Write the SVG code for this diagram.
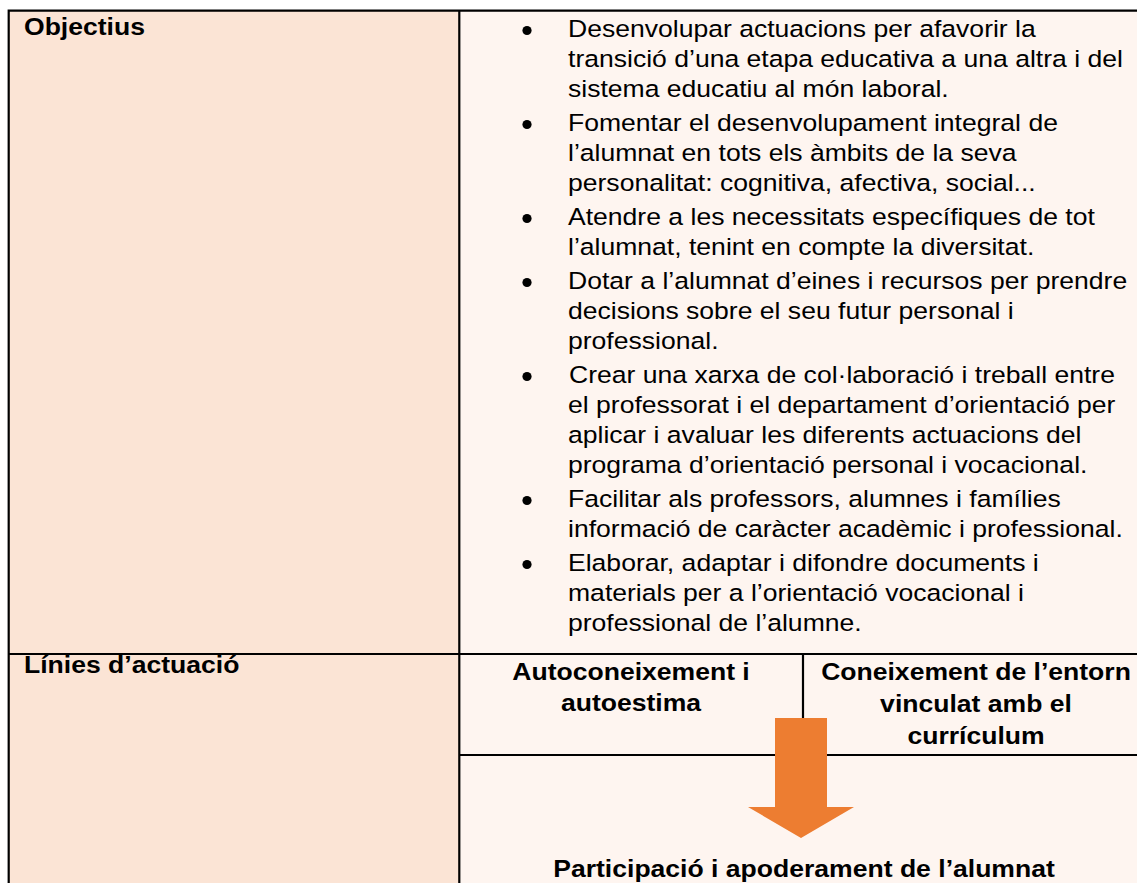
<svg xmlns="http://www.w3.org/2000/svg" width="1137" height="883" viewBox="0 0 1137 883">
<style>
.t{font-family:"Liberation Sans",Arial,sans-serif;font-size:23.3px;fill:#000}
.bd{font-weight:bold}
.c{text-anchor:middle}
.ln{stroke:#000;stroke-width:2.2;fill:none}
.dot{fill:#000}
</style>
<rect width="1137" height="883" fill="#fff"/>
<g id="cells">
<rect x="9" y="11" width="450" height="872" fill="#FBE4D5"/>
<rect x="459" y="11" width="690" height="872" fill="#FEF5F0"/>
</g>
<g id="grid">
<path class="ln" d="M7.6 10.7H1150M8.7 10V883M459.3 10V883M8.7 654H1150M803 654V755M459.3 755H1150"/>
</g>
<g id="objectius-label">
<text class="t bd" transform="translate(24 35) scale(1.14 1)">Objectius</text>
</g>
<g id="objectius-list">
<circle class="dot" cx="527" cy="30.5" r="4.6"/>
<text class="t" transform="translate(568 37) scale(1.14 1)">Desenvolupar actuacions per afavorir la</text>
<text class="t" transform="translate(568 67) scale(1.14 1)">transició d’una etapa educativa a una altra i del</text>
<text class="t" transform="translate(568 97) scale(1.14 1)">sistema educatiu al món laboral.</text>
<circle class="dot" cx="527" cy="124.5" r="4.6"/>
<text class="t" transform="translate(568 131) scale(1.14 1)">Fomentar el desenvolupament integral de</text>
<text class="t" transform="translate(568 161) scale(1.14 1)">l’alumnat en tots els àmbits de la seva</text>
<text class="t" transform="translate(568 191) scale(1.14 1)">personalitat: cognitiva, afectiva, social...</text>
<circle class="dot" cx="527" cy="218.5" r="4.6"/>
<text class="t" transform="translate(568 225) scale(1.14 1)">Atendre a les necessitats específiques de tot</text>
<text class="t" transform="translate(568 255) scale(1.14 1)">l’alumnat, tenint en compte la diversitat.</text>
<circle class="dot" cx="527" cy="282.5" r="4.6"/>
<text class="t" transform="translate(568 289) scale(1.14 1)">Dotar a l’alumnat d’eines i recursos per prendre</text>
<text class="t" transform="translate(568 319) scale(1.14 1)">decisions sobre el seu futur personal i</text>
<text class="t" transform="translate(568 349) scale(1.14 1)">professional.</text>
<circle class="dot" cx="527" cy="376.5" r="4.6"/>
<text class="t" transform="translate(569 383) scale(1.14 1)">Crear una xarxa de col·laboració i treball entre</text>
<text class="t" transform="translate(568 413) scale(1.14 1)">el professorat i el departament d’orientació per</text>
<text class="t" transform="translate(568 443) scale(1.14 1)">aplicar i avaluar les diferents actuacions del</text>
<text class="t" transform="translate(568 473) scale(1.14 1)">programa d’orientació personal i vocacional.</text>
<circle class="dot" cx="527" cy="500.5" r="4.6"/>
<text class="t" transform="translate(568 507) scale(1.14 1)">Facilitar als professors, alumnes i famílies</text>
<text class="t" transform="translate(568 537) scale(1.14 1)">informació de caràcter acadèmic i professional.</text>
<circle class="dot" cx="527" cy="564.5" r="4.6"/>
<text class="t" transform="translate(568 571) scale(1.14 1)">Elaborar, adaptar i difondre documents i</text>
<text class="t" transform="translate(568 601) scale(1.14 1)">materials per a l’orientació vocacional i</text>
<text class="t" transform="translate(568 631) scale(1.14 1)">professional de l’alumne.</text>
</g>
<g id="linies-label">
<text class="t bd" transform="translate(24 673) scale(1.14 1)">Línies d’actuació</text>
</g>
<g id="autoconeixement">
<text class="t bd c" transform="translate(631 680) scale(1.14 1)">Autoconeixement i</text>
<text class="t bd c" transform="translate(631 711) scale(1.14 1)">autoestima</text>
</g>
<g id="coneixement-entorn">
<text class="t bd c" transform="translate(976 680) scale(1.14 1)">Coneixement de l’entorn</text>
<text class="t bd c" transform="translate(976 712) scale(1.14 1)">vinculat amb el</text>
<text class="t bd c" transform="translate(976 744) scale(1.14 1)">currículum</text>
</g>
<g id="connectors">
<polygon points="775,718 827,718 827,807 854,807 801,838 748,807 775,807" fill="#ED7D31"/>
</g>
<g id="participacio">
<text class="t bd c" transform="translate(804 877) scale(1.14 1)">Participació i apoderament de l’alumnat</text>
</g>
</svg>
